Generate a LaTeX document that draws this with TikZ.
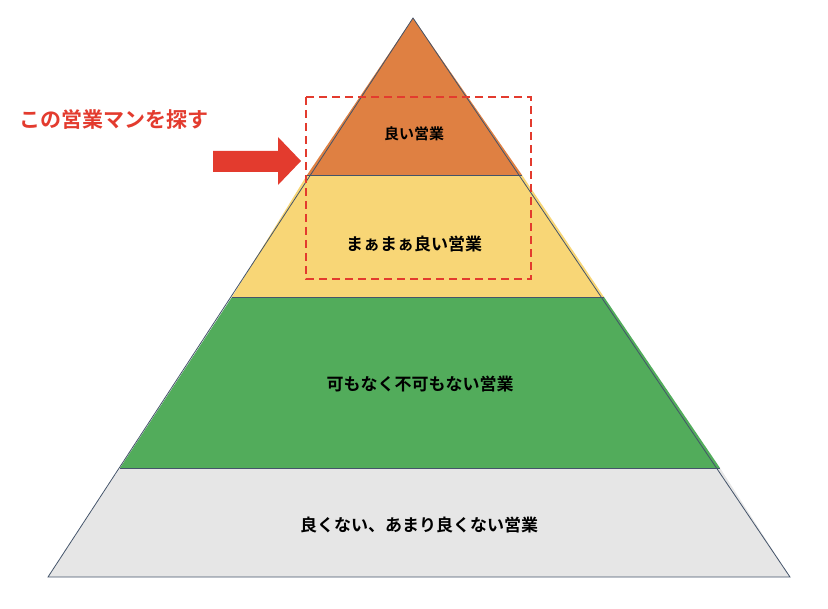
\documentclass[tikz,border=0pt]{standalone}
\usepackage{fontspec}
\newfontfamily\jpfont{Noto Sans CJK JP Bold}
\definecolor{tierA}{HTML}{DF8042}
\definecolor{tierB}{HTML}{F8D676}
\definecolor{tierC}{HTML}{52AC5B}
\definecolor{tierD}{HTML}{E6E6E6}
\definecolor{edge}{HTML}{44546A}
\definecolor{markred}{HTML}{E33B2E}
\tikzset{
 tier/.style={draw=edge, line width=0.8pt},
 lbl/.style={font=\jpfont\fontsize{17}{17}\selectfont, text=black},
}
\begin{document}
\begin{tikzpicture}[x=1pt,y=-1pt]
 \useasboundingbox (0,0) rectangle (828,609);
 \coordinate (top) at (413,18);
 \coordinate (l1) at (307,175); \coordinate (r1) at (522,175);
 \coordinate (l2) at (232,297); \coordinate (r2) at (604,297);
 \coordinate (l3) at (120,468); \coordinate (r3) at (720,468);
 \coordinate (l4) at (48,577);  \coordinate (r4) at (790,577);
 \fill[tierD] (l3) -- (r3) -- (r4) -- (l4) -- cycle;
 \fill[tierC] (l2) -- (r2) -- (r3) -- (l3) -- cycle;
 \fill[tierB] (l1) -- (r1) -- (r2) -- (l2) -- cycle;
 \fill[tierA] (top) -- (r1) -- (l1) -- cycle;
 \draw[tier] (top) -- (l4) -- (r4) -- cycle;
 \draw[tier] (l1) -- (r1);
 \draw[tier] (l2) -- (r2);
 \draw[tier] (l3) -- (r3);
 \node[lbl, font=\jpfont\fontsize{15}{15}\selectfont] (good) at (414,134) {良い営業};
 \node[lbl] (fair) at (414,244) {まぁまぁ良い営業};
 \node[lbl] (mid) at (420,384) {可もなく不可もない営業};
 \node[lbl] (bad) at (419,525) {良くない、あまり良くない営業};
 % target box
 \draw[markred, line width=2pt, dash pattern=on 8pt off 5pt] (306,97) rectangle (531,279);
 \fill[markred] (213,151) -- (278,151) -- (278,137) -- (301,161) -- (278,185) -- (278,172) -- (213,172) -- cycle;
 \node[font=\jpfont\fontsize{21}{21}\selectfont, text=markred, anchor=west] (find) at (16,120) {この営業マンを探す};
\end{tikzpicture}
\end{document}
